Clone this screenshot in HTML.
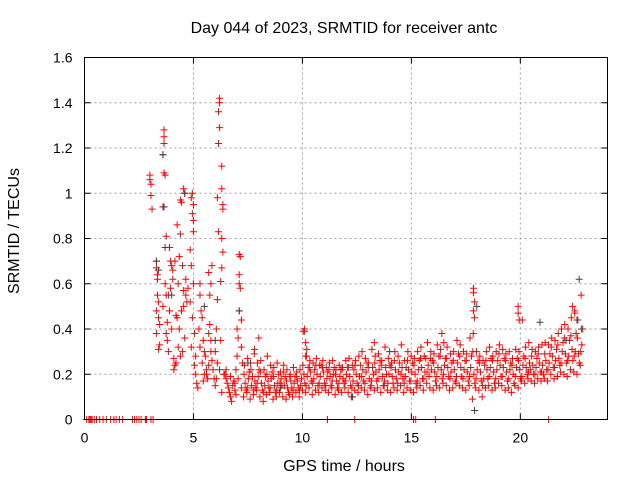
<!DOCTYPE html>
<html><head><meta charset="utf-8"><style>
body{margin:0;background:#fff}
svg{display:block;font-family:"Liberation Sans",sans-serif}
</style></head><body>
<svg id="chart" width="640" height="480" viewBox="0 0 640 480">
<g id="grid"></g>
<g id="ticks"></g>
<g id="marks"></g>
<rect x="84.5" y="57.5" width="523" height="362" fill="none" stroke="#000" stroke-width="1"/>
<text x="344" y="33" font-size="16" text-anchor="middle">Day 044 of 2023, SRMTID for receiver antc</text>
<text x="344" y="471" font-size="16" text-anchor="middle">GPS time / hours</text>
<text transform="translate(19,231) rotate(-90)" font-size="16" text-anchor="middle">SRMTID / TECUs</text>
</svg>
<script>
const xTicks=[0,5,10,15,20];
const yTicks=[0,0.2,0.4,0.6,0.8,1,1.2,1.4,1.6];
const yTickLabels=["0","0.2","0.4","0.6","0.8","1","1.2","1.4","1.6"];
const cloudTimes=[7.30,7.45,7.60,7.75,7.90,8.05,8.20,8.35,8.50,8.65,8.80,8.95,9.10,9.25,9.40,9.55,9.70,9.85,10.00,10.15,10.30,10.45,10.60,10.75,10.90,11.05,11.20,11.35,11.50,11.65,11.80,11.95,12.10,12.25,12.40,12.55,12.70,12.85,13.00,13.15,13.30,13.45,13.60,13.75,13.90,14.05,14.20,14.35,14.50,14.65,14.80,14.95,15.10,15.25,15.40,15.55,15.70,15.85,16.00,16.15,16.30,16.45,16.60,16.75,16.90,17.05,17.20,17.35,17.50,17.65,17.80,17.95,18.10,18.25,18.40,18.55,18.70,18.85,19.00,19.15,19.30,19.45,19.60,19.75,19.90,20.05,20.20,20.35,20.50,20.65,20.80,20.95,21.10,21.25,21.40,21.55,21.70,21.85,22.00,22.15,22.30,22.45,22.60,22.75];
const cloudLo=[0.10,0.12,0.09,0.11,0.13,0.10,0.08,0.11,0.12,0.09,0.10,0.12,0.10,0.09,0.11,0.10,0.12,0.10,
0.13,0.12,0.14,0.11,0.13,0.12,0.14,0.13,0.12,0.14,0.11,0.13,0.12,0.14,
0.12,0.10,0.13,0.12,0.14,0.13,0.11,0.15,0.13,0.14,0.12,0.15,0.13,0.12,0.14,0.13,0.15,0.12,0.14,0.13,
0.12,0.14,0.15,0.13,0.16,0.14,0.13,0.15,0.14,0.16,0.15,0.13,0.14,0.16,0.15,0.14,0.13,0.15,0.09,0.14,
0.13,0.10,0.14,0.15,0.13,0.14,0.16,0.15,0.13,0.14,0.12,0.15,0.14,0.17,0.16,0.18,0.17,0.16,0.18,0.17,
0.18,0.17,0.20,0.18,0.19,0.21,0.20,0.19,0.22,0.21,0.20,0.24];
const cloudMid=[0.16,0.18,0.15,0.17,0.19,0.16,0.15,0.17,0.18,0.15,0.16,0.18,0.15,0.14,0.17,0.16,0.17,0.15,
0.20,0.19,0.21,0.18,0.20,0.19,0.21,0.18,0.19,0.20,0.17,0.19,0.18,0.20,
0.19,0.17,0.20,0.19,0.22,0.21,0.18,0.23,0.21,0.22,0.19,0.23,0.20,0.19,0.22,0.21,0.23,0.19,0.22,0.21,
0.20,0.22,0.23,0.21,0.24,0.22,0.21,0.23,0.22,0.24,0.23,0.21,0.22,0.25,0.23,0.22,0.21,0.23,0.20,0.22,
0.21,0.18,0.22,0.23,0.21,0.22,0.24,0.23,0.21,0.22,0.20,0.23,0.22,0.24,0.23,0.25,0.24,0.23,0.25,0.24,
0.26,0.25,0.28,0.26,0.27,0.30,0.29,0.28,0.31,0.30,0.29,0.33];
const cloudHi=[0.24,0.27,0.22,0.29,0.25,0.26,0.22,0.28,0.24,0.23,0.25,0.21,0.24,0.22,0.20,0.23,0.21,0.22,
0.39,0.28,0.26,0.25,0.27,0.24,0.26,0.23,0.25,0.26,0.22,0.24,0.23,0.26,
0.27,0.24,0.26,0.28,0.30,0.27,0.25,0.31,0.28,0.29,0.26,0.32,0.27,0.25,0.30,0.28,0.33,0.26,0.30,0.28,
0.27,0.30,0.32,0.28,0.34,0.30,0.29,0.33,0.31,0.34,0.32,0.29,0.30,0.35,0.33,0.30,0.29,0.36,0.38,0.30,
0.28,0.26,0.30,0.32,0.28,0.30,0.33,0.31,0.29,0.30,0.27,0.31,0.30,0.44,0.32,0.34,0.31,0.30,0.32,0.33,
0.34,0.33,0.36,0.35,0.38,0.40,0.42,0.40,0.45,0.48,0.44,0.55];
const cloudA=[0.13,0.21,0.19,0.14,0.22,0.13,0.19,0.14,0.21,0.12,0.20,0.15,0.19,0.12,0.14,0.19,0.14,0.18,
0.16,0.23,0.17,0.22,0.15,0.24,0.16,0.21,0.15,0.23,0.14,0.22,0.16,0.23,
0.15,0.22,0.16,0.24,0.17,0.25,0.14,0.20,0.17,0.26,0.15,0.20,0.24,0.16,0.18,0.25,0.18,0.23,0.17,0.25,
0.16,0.26,0.18,0.27,0.19,0.26,0.17,0.28,0.18,0.27,0.19,0.25,0.17,0.29,0.19,0.26,0.17,0.28,0.16,0.26,
0.17,0.24,0.18,0.27,0.16,0.26,0.19,0.27,0.17,0.25,0.16,0.27,0.18,0.28,0.20,0.22,0.20,0.27,0.21,0.20,
0.22,0.29,0.23,0.31,0.24,0.34,0.25,0.35,0.26,0.38,0.25,0.40];
const cloudB=[0.20,0.14,0.25,0.13,0.16,0.21,0.12,0.20,0.14,0.19,0.13,0.16,0.21,0.17,0.19,0.13,0.19,0.13,
0.24,0.15,0.23,0.16,0.24,0.16,0.23,0.15,0.22,0.17,0.20,0.16,0.22,0.17,
0.23,0.14,0.24,0.15,0.19,0.16,0.23,0.17,0.25,0.18,0.24,0.17,0.16,0.23,0.26,0.16,0.20,0.16,0.26,0.17,
0.24,0.17,0.27,0.18,0.21,0.27,0.25,0.19,0.28,0.20,0.27,0.18,0.26,0.19,0.28,0.18,0.26,0.19,0.30,0.18,
0.25,0.15,0.26,0.19,0.26,0.18,0.29,0.19,0.26,0.18,0.24,0.19,0.26,0.19,0.27,0.21,0.28,0.20,0.29,0.21,
0.29,0.22,0.32,0.23,0.33,0.25,0.36,0.26,0.37,0.28,0.36,0.30];
const spikeTimes=[3.0,3.0,3.05,3.05,3.1,
3.3,3.3,3.35,3.35,3.4,3.4,3.3,3.45,3.4,3.35,3.3,3.45,
3.65,3.65,3.65,3.6,3.65,3.7,3.6,3.7,3.75,3.6,3.8,3.75,
3.75,3.9,3.95,4.0,4.05,3.85,3.9,4.0,3.8,3.85,4.1,4.15,4.1,4.05,4.15,3.95,4.2,
4.4,4.45,4.55,4.6,4.25,4.4,4.35,4.5,4.3,4.55,4.65,4.7,4.45,4.25,4.35,4.6,4.3,4.5,4.4,4.2,4.75,4.65,4.55,
4.95,4.9,5.0,4.95,5.0,5.0,4.85,4.9,5.0,4.85,4.95,5.05,4.9,5.1,5.05,5.1,5.15,5.2,
5.3,5.3,5.35,5.4,5.25,5.45,5.3,5.5,5.55,5.4,5.6,5.5,5.65,5.45,5.7,5.75,5.8,5.85,5.9,5.95,5.6,5.7,5.8,5.75,5.8,5.85,5.7,
6.2,6.2,6.15,6.2,6.15,6.3,6.3,6.1,6.35,6.35,6.15,6.3,6.35,6.3,6.25,6.1,6.05,6.25,6.0,6.1,6.4,6.05,6.0,6.3,
6.45,6.5,6.55,6.6,6.65,6.7,6.75,6.8,6.85,6.9,6.95,6.5,6.7,6.9,
7.1,7.15,7.1,7.1,7.15,7.1,7.2,7.0,7.05,7.2,7.0,7.25,6.95,7.05,7.2,
10.1,10.1,10.15,10.2,10.15,17.85,17.85,17.9,17.85,17.9,19.9,19.9,19.95,22.4,22.5,8.0,7.8,13.3,16.4];
const spikeValues=[1.08,1.06,1.04,0.99,0.93,
0.70,0.67,0.64,0.62,0.52,0.45,0.38,0.33,0.31,0.55,0.48,0.42,
1.28,1.25,1.22,1.17,1.09,1.08,0.94,0.60,0.55,0.50,0.43,0.38,
0.81,0.76,0.70,0.68,0.62,0.55,0.48,0.40,0.35,0.30,0.27,0.24,0.22,0.66,0.70,0.58,0.46,
0.97,0.96,1.02,1.0,0.86,0.82,0.72,0.68,0.60,0.57,0.55,0.52,0.48,0.45,0.40,0.36,0.32,0.30,0.28,0.25,0.58,0.62,0.50,
1.0,0.98,0.95,0.91,0.88,0.83,0.75,0.68,0.60,0.52,0.45,0.38,0.32,0.28,0.24,0.20,0.16,0.14,
0.60,0.55,0.48,0.45,0.40,0.35,0.32,0.30,0.28,0.25,0.22,0.20,0.18,0.17,0.38,0.42,0.30,0.26,0.22,0.18,0.20,0.24,0.35,0.55,0.60,0.68,0.65,
1.42,1.40,1.36,1.29,1.22,1.12,1.02,0.98,0.95,0.93,0.83,0.80,0.74,0.67,0.61,0.53,0.40,0.35,0.30,0.25,0.20,0.18,0.15,0.12,
0.20,0.18,0.16,0.14,0.12,0.10,0.08,0.15,0.17,0.13,0.11,0.22,0.19,0.16,
0.73,0.72,0.64,0.60,0.58,0.48,0.44,0.40,0.36,0.32,0.28,0.25,0.22,0.18,0.14,
0.40,0.39,0.34,0.31,0.28,0.58,0.56,0.52,0.48,0.45,0.50,0.47,0.44,0.50,0.47,0.36,0.31,0.34,0.38];
const zeroTimes=[0.1,0.2,0.25,0.3,0.35,0.45,0.55,0.7,0.85,1.0,1.2,1.35,1.45,1.6,1.75,2.2,2.3,2.4,2.5,2.6,2.8,2.85,3.05,3.15,11.15,12.4,15.1,15.2,16.1,21.3];
const grayTimes=[3.3,3.4,3.6,3.65,3.7,4.0,4.6,5.5,6.0,6.2,7.1,7.5,9.0,12.3,14.0,17.9,18.0,20.9,22.1,22.7,22.6,22.8];
const grayValues=[0.70,0.66,1.17,0.94,0.76,0.55,1.00,0.50,0.35,0.22,0.48,0.25,0.14,0.10,0.30,0.04,0.50,0.43,0.35,0.62,0.44,0.40];

const X0=84.5,X1=607.5,Y0=419.5,Y1=57.5;
const xs=t=>X0+(t/24)*(X1-X0);
const ys=v=>Y0-(v/1.6)*(Y0-Y1);
const NS="http://www.w3.org/2000/svg";
const grid=document.getElementById('grid'),ticks=document.getElementById('ticks'),marks=document.getElementById('marks');
function mk(tag,attrs,parent){const e=document.createElementNS(NS,tag);for(const k in attrs)e.setAttribute(k,attrs[k]);parent.appendChild(e);return e;}
yTicks.forEach((v,i)=>{
  const y=ys(v);
  if(i>0&&i<yTicks.length-1){const g=mk('line',{x1:X0,x2:X1,y1:y,y2:y,stroke:'#a0a0a0','stroke-dasharray':'2,3'},grid);
  
  }
  const t=mk('line',{x1:X0,x2:X0+6,y1:y,y2:y,stroke:'#000'},ticks);
  
  
  const t2=mk('line',{x1:X1-6,x2:X1,y1:y,y2:y,stroke:'#000'},ticks);
  
  
  const l=mk('text',{x:X0-12,y:y+5,'font-size':14,'text-anchor':'end'},ticks);
  l.textContent=yTickLabels[i];
  
  
});
xTicks.forEach(v=>{
  const x=xs(v);
  if(v>0){const g=mk('line',{x1:x,x2:x,y1:Y0,y2:Y1,stroke:'#a0a0a0','stroke-dasharray':'2,3'},grid);
  
  }
  const t=mk('line',{x1:x,x2:x,y1:Y0,y2:Y0-6,stroke:'#000'},ticks);
  
  
  const t2=mk('line',{x1:x,x2:x,y1:Y1,y2:Y1+6,stroke:'#000'},ticks);
  
  
  const l=mk('text',{x:x,y:Y0+23,'font-size':14,'text-anchor':'middle'},ticks);
  l.textContent=String(v);
  
  
});
function plus(t,v,color,name){
  const x=xs(t),y=ys(v);
  const p=mk('path',{d:`M${x-3.5} ${y}H${x+3.5}M${x} ${y-3.5}V${y+3.5}`,stroke:color,'stroke-width':1,fill:'none'},marks);
  
  
}
cloudTimes.forEach((t,i)=>{
  plus(t,cloudLo[i],'#ff0000','point-red');
  plus(t+0.07,cloudMid[i],'#ff0000','point-red');
  plus(t+0.04,cloudHi[i],'#ff0000','point-red');
  plus(t+0.11,cloudA[i],'#ff0000','point-red');
  plus(t+0.02,cloudB[i],'#ff0000','point-red');
});
spikeTimes.forEach((t,i)=>plus(t,spikeValues[i],'#ff0000','point-red'));
zeroTimes.forEach(t=>plus(t,0,'#ff0000','point-zero'));
grayTimes.forEach((t,i)=>plus(t,grayValues[i],'#404040','point-gray'));
</script>
</body></html>
